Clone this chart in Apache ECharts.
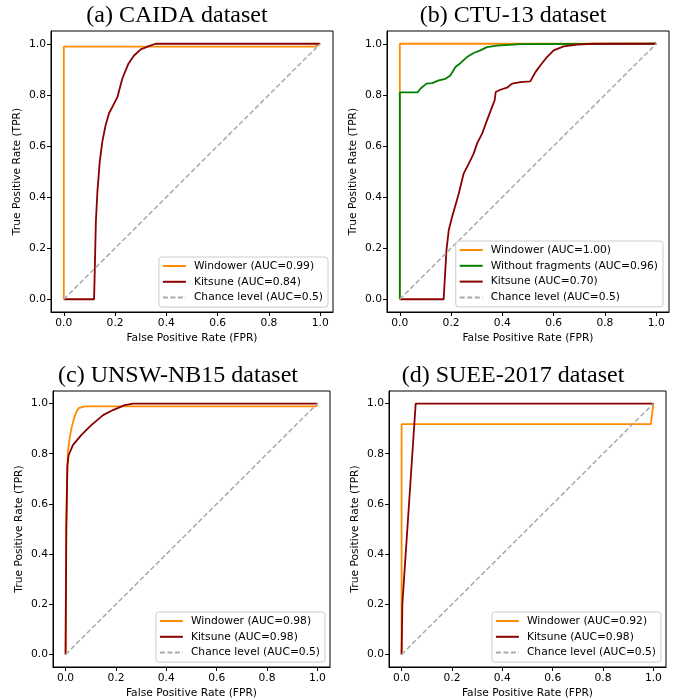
<!DOCTYPE html>
<html>
<head>
<meta charset="utf-8">
<script src="https://cdn.jsdelivr.net/npm/echarts@6/dist/echarts.min.js"></script>
<style>
html,body{margin:0;padding:0;background:#fff;}
#c{width:678px;height:700px;}
</style>
</head>
<body>
<div id="c"></div>
<script>
// ---- tick labels ----
const xTicks = [0, 0.2, 0.4, 0.6, 0.8, 1.0];
const yTicks = [0, 0.2, 0.4, 0.6, 0.8, 1.0];

// ---- titles ----
const titles = ['(a) CAIDA dataset', '(b) CTU-13 dataset', '(c) UNSW-NB15 dataset', '(d) SUEE-2017 dataset'];

// ---- series names ----
const namesA = ['Windower (AUC=0.99)', 'Kitsune (AUC=0.84)', 'Chance level (AUC=0.5)'];
const namesB = ['Windower (AUC=1.00)', 'Without fragments (AUC=0.96)', 'Kitsune (AUC=0.70)', 'Chance level (AUC=0.5)'];
const namesC = ['Windower (AUC=0.98)', 'Kitsune (AUC=0.98)', 'Chance level (AUC=0.5)'];
const namesD = ['Windower (AUC=0.92)', 'Kitsune (AUC=0.98)', 'Chance level (AUC=0.5)'];

// ---- ROC data [FPR, TPR] ----
const chance = [[0, 0], [1, 1]];

const caidaWindower = [[0, 0], [0, 0.989], [0.98, 0.989], [1, 1]];
const caidaKitsune = [[0, 0], [0.118, 0], [0.121, 0.121], [0.125, 0.303], [0.131, 0.42], [0.140, 0.537],
  [0.150, 0.616], [0.163, 0.681], [0.176, 0.727], [0.196, 0.766], [0.209, 0.791], [0.228, 0.863],
  [0.252, 0.922], [0.274, 0.954], [0.300, 0.978], [0.332, 0.991], [0.358, 1.0], [1, 1]];

const ctuWindower = [[0, 0], [0, 1], [1, 1]];
const ctuNoFrag = [[0, 0], [0, 0.81], [0.07, 0.81], [0.08, 0.824], [0.104, 0.844], [0.126, 0.846],
  [0.152, 0.857], [0.178, 0.863], [0.197, 0.876], [0.217, 0.909], [0.236, 0.924], [0.262, 0.948],
  [0.288, 0.964], [0.314, 0.974], [0.340, 0.987], [0.379, 0.993], [0.47, 0.999], [1, 1]];
const ctuKitsune = [[0, 0], [0.171, 0], [0.182, 0.193], [0.191, 0.271], [0.204, 0.323], [0.217, 0.368],
  [0.230, 0.414], [0.249, 0.492], [0.269, 0.531], [0.288, 0.570], [0.301, 0.609], [0.321, 0.648],
  [0.340, 0.700], [0.360, 0.753], [0.370, 0.779], [0.374, 0.811], [0.392, 0.820], [0.418, 0.828],
  [0.438, 0.844], [0.470, 0.850], [0.509, 0.853], [0.529, 0.889], [0.548, 0.915], [0.574, 0.948],
  [0.600, 0.974], [0.639, 0.990], [0.691, 0.997], [0.756, 1.0], [1, 1]];

const unswWindower = [[0, 0], [0.002, 0.5], [0.006, 0.7], [0.009, 0.807], [0.016, 0.86], [0.023, 0.9],
  [0.033, 0.94], [0.043, 0.967], [0.052, 0.982], [0.076, 0.989], [0.995, 0.989], [1, 1]];
const unswKitsune = [[0, 0], [0.003, 0.5], [0.007, 0.75], [0.012, 0.794], [0.029, 0.834], [0.062, 0.874],
  [0.102, 0.914], [0.149, 0.954], [0.188, 0.974], [0.235, 0.994], [0.268, 1.0], [1, 1]];

const sueeWindower = [[0, 0], [0, 0.918], [0.99, 0.918], [1, 1]];
const sueeKitsune = [[0, 0], [0.003, 0.2], [0.056, 1.0], [1, 1]];

// ---- styling ----
const ORANGE = '#ff8c00', DARKRED = '#8b0000', GREEN = '#008000', GREY = '#aaaaaa';
const SANS = 'DejaVu Sans';
const FS = 10.7;

const grids = [
  {left: 51, top: 31, width: 282, height: 281},
  {left: 387, top: 31, width: 282, height: 281},
  {left: 53, top: 391, width: 277, height: 276},
  {left: 389, top: 391, width: 277, height: 276}
];
const titleCenters = [[172, -1], [508, -1], [173, 359], [508, 359]];
const legendPos = [
  {right: 350, top: 257},
  {right: 15, top: 241},
  {right: 353, top: 612},
  {right: 17, top: 612}
];

function mkAxis(type, idx) {
  const isX = type === 'x';
  return {
    type: 'value', gridIndex: idx, min: -0.05, max: 1.05,
    name: isX ? 'False Positive Rate (FPR)' : 'True Positive Rate (TPR)',
    nameLocation: 'middle', nameGap: isX ? 21 : 28,
    nameTextStyle: {fontFamily: SANS, fontSize: FS, color: '#000'},
    axisLine: {show: true, onZero: false, lineStyle: {color: '#000', width: 1}},
    axisTick: {show: true, inside: false, length: 4, customValues: isX ? xTicks : yTicks,
      lineStyle: {color: '#000', width: 1}},
    axisLabel: {show: true, customValues: isX ? xTicks : yTicks, margin: isX ? 6 : 5,
      fontFamily: SANS, fontSize: FS, color: '#000',
      formatter: v => Number(v).toFixed(1)},
    splitLine: {show: false}
  };
}

function line(name, data, color, idx, dashed) {
  return {
    type: 'line', name: name, data: data, xAxisIndex: idx, yAxisIndex: idx,
    symbol: 'none', showSymbol: false, animation: false, clip: true,
    lineStyle: {color: color, width: dashed ? 1.5 : 1.8, type: dashed ? [5, 2.5] : 'solid'},
    itemStyle: {color: color}
  };
}

const series = [
  line(namesA[0], caidaWindower, ORANGE, 0),
  line(namesA[1], caidaKitsune, DARKRED, 0),
  line(namesA[2], chance, GREY, 0, true),
  line(namesB[0], ctuWindower, ORANGE, 1),
  line(namesB[1], ctuNoFrag, GREEN, 1),
  line(namesB[2], ctuKitsune, DARKRED, 1),
  line(namesB[3], chance, GREY, 1, true),
  line(namesC[0], unswWindower, ORANGE, 2),
  line(namesC[1], unswKitsune, DARKRED, 2),
  line(namesC[2], chance, GREY, 2, true),
  line(namesD[0], sueeWindower, ORANGE, 3),
  line(namesD[1], sueeKitsune, DARKRED, 3),
  line(namesD[2], chance, GREY, 3, true)
];

const legendNames = [namesA, namesB, namesC, namesD];

const option = {
  backgroundColor: '#fff',
  animation: false,
  title: titles.map((t, i) => ({
    text: t, left: titleCenters[i][0], top: titleCenters[i][1], textAlign: 'center',
    textStyle: {fontFamily: 'Liberation Serif', fontSize: 24, fontWeight: 'normal', color: '#000'}
  })),
  grid: grids.map(g => Object.assign({show: true, borderColor: '#000', borderWidth: 1, backgroundColor: 'transparent', containLabel: false}, g)),
  xAxis: [0, 1, 2, 3].map(i => mkAxis('x', i)),
  yAxis: [0, 1, 2, 3].map(i => mkAxis('y', i)),
  legend: legendNames.map((n, i) => Object.assign({
    data: n, orient: 'vertical', itemWidth: 23, itemHeight: 12, itemGap: 2.8,
    padding: [2.5, 5, 3, 3], borderColor: '#cccccc', borderWidth: 1, borderRadius: 3,
    backgroundColor: 'rgba(255,255,255,0.8)', selectedMode: false,
    itemStyle: {opacity: 0},
    textStyle: {fontFamily: SANS, fontSize: FS, color: '#000', lineHeight: 13, padding: [0, 0, 0, 3]}
  }, legendPos[i])),
  series: series
};

const chart = echarts.init(document.getElementById('c'), null, {renderer: 'canvas'});
chart.setOption(option);
</script>
</body>
</html>
